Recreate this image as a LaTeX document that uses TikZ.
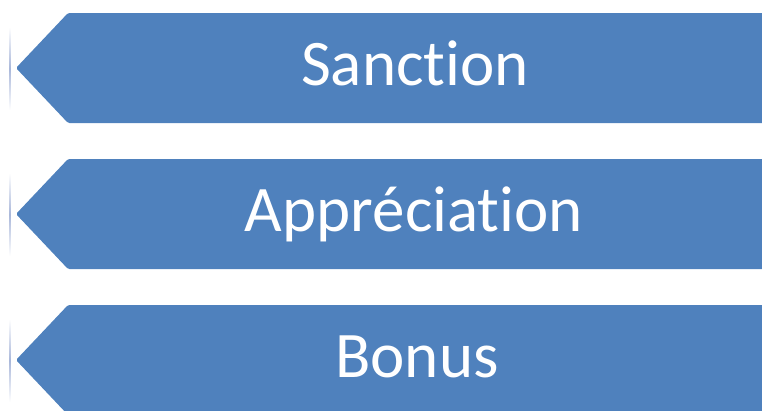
\documentclass[tikz,border=0pt]{standalone}
\usepackage{fontspec}
\setmainfont[Ligatures={NoCommon}]{Carlito}
\definecolor{chevronblue}{HTML}{4F81BD}
\definecolor{barblue}{HTML}{A9B7DA}
\begin{document}
\begin{tikzpicture}[x=1pt,y=-1pt,
  label text/.style={text=white,font=\fontsize{65}{70}\selectfont,anchor=base,inner sep=0pt},
  arrowbox/.style={fill=chevronblue,draw=none,rounded corners=1.5pt}]
\useasboundingbox (0,0) rectangle (762,410);
\clip (0,0) rectangle (762,410);
% left-pointing chevron bands
\foreach \t/\n in {13/a,159/b,305/c}{
  \fill[arrowbox] (780,\t) -- (68,\t) -- (16,\t+55) -- (68,\t+110) -- (780,\t+110) -- cycle;
  % faint vertical bar next to each tip
  \shade[top color=white,bottom color=white,middle color=barblue]
    (9.2,\t+14) rectangle (10.8,\t+97);
}
\node[label text] (s1) at (415,85) {Sanction};
\node[label text] (s2) at (414,231) {Appréciation};
\node[label text] (s3) at (417,377) {Bonus};
\end{tikzpicture}
\end{document}
